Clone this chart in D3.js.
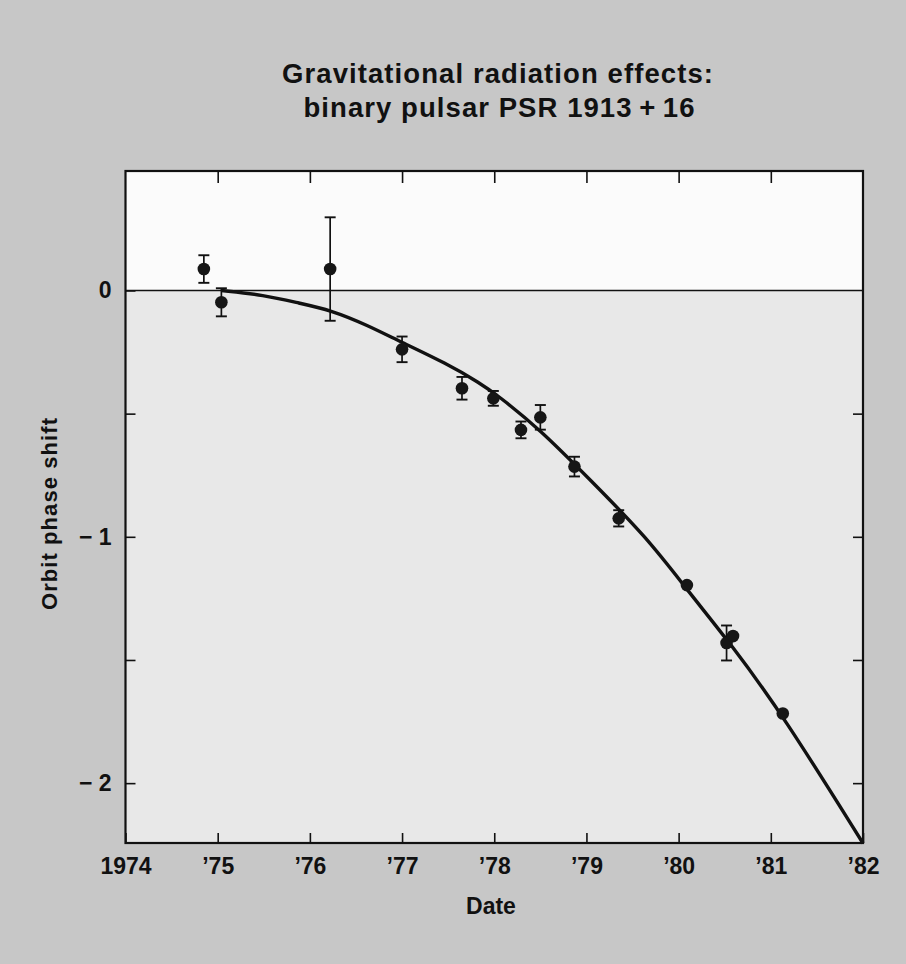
<!DOCTYPE html>
<html>
<head>
<meta charset="utf-8">
<script src="https://cdn.jsdelivr.net/npm/d3@7/dist/d3.min.js"></script>
<style>
  html, body { margin: 0; padding: 0; background: #c7c7c7; }
  svg { display: block; }
  text { fill: #111; }
</style>
</head>
<body>
<script>
// ---- data ----
const dates  = [1974.85, 1975.04, 1976.22, 1977.00, 1977.65, 1977.99, 1978.29, 1978.50, 1978.87, 1979.35, 1980.09, 1980.52, 1980.59, 1981.13];
const shifts = [0.087, -0.048, 0.087, -0.239, -0.397, -0.438, -0.566, -0.515, -0.715, -0.925, -1.196, -1.431, -1.403, -1.717];
const errors = [0.056, 0.057, 0.210, 0.052, 0.046, 0.030, 0.034, 0.050, 0.040, 0.033, 0.020, 0.071, 0.020, 0.012];

// predicted curve (general relativity)
const curveDates  = [1975.04, 1975.50, 1975.89, 1976.22, 1976.62, 1976.98, 1977.48, 1977.85, 1978.03, 1978.50, 1979.04, 1979.65, 1980.12, 1980.56, 1981.13, 1982.00];
const curveShifts = [0.000, -0.018, -0.052, -0.079, -0.140, -0.208, -0.296, -0.377, -0.424, -0.565, -0.769, -1.000, -1.229, -1.432, -1.723, -2.244];

const xTicks = [1974, 1975, 1976, 1977, 1978, 1979, 1980, 1981, 1982];
const xTickLabels = ["1974", "\u201975", "\u201976", "\u201977", "\u201978", "\u201979", "\u201980", "\u201981", "\u201982"];
const yTicks = [0, -0.5, -1, -1.5, -2];
const yTickLabels = ["0", "", "\u2212 1", "", "\u2212 2"];

const titleLines = ["Gravitational radiation effects:", "binary pulsar PSR 1913\u2009+\u200916"];
const xTitle = "Date";
const yTitle = "Orbit phase shift";

// ---- layout ----
const W = 906, H = 964;
const L = 125.5, R = 863, T = 171, B = 843;

const svg = d3.select("body").append("svg").attr("width", W).attr("height", H);

svg.append("rect").attr("width", W).attr("height", H).attr("fill", "#c7c7c7");

const x = d3.scaleLinear().domain([1974, 1982]).range([L, R]);
const y = d3.scaleLinear().domain([-2.243, 0.485]).range([B, T]);

// plot area backgrounds
svg.append("rect").attr("x", L).attr("y", T).attr("width", R - L).attr("height", y(0) - T).attr("fill", "#fbfbfb");
svg.append("rect").attr("x", L).attr("y", y(0)).attr("width", R - L).attr("height", B - y(0)).attr("fill", "#e8e8e8");

const font = "'Liberation Sans', Arial, Helvetica, sans-serif";

// title
const titleGeom = [{ cx: 497.5, y: 83, len: 431 }, { cx: 499, y: 117, len: 391 }];
svg.append("g").selectAll("text").data(titleLines).join("text")
  .attr("x", (d, i) => titleGeom[i].cx - titleGeom[i].len / 2).attr("y", (d, i) => titleGeom[i].y)
  .attr("textLength", (d, i) => titleGeom[i].len).attr("lengthAdjust", "spacing")
  .attr("font-family", font).attr("font-size", 27.5).attr("font-weight", "bold")
  .text(d => d);

// axes
const xAxisB = d3.axisBottom(x).tickValues(xTicks).tickFormat((d, i) => xTickLabels[i]).tickSizeInner(-10).tickSizeOuter(0).tickPadding(15);
const xAxisT = d3.axisTop(x).tickValues(xTicks.slice(1, -1)).tickFormat("").tickSizeInner(-12).tickSizeOuter(0);
const yAxisL = d3.axisLeft(y).tickValues(yTicks).tickFormat((d, i) => yTickLabels[i]).tickSizeInner(-10).tickSizeOuter(0).tickPadding(14);
const yAxisR = d3.axisRight(y).tickValues(yTicks.slice(1)).tickFormat("").tickSizeInner(-10).tickSizeOuter(0);

function styleAxis(g) {
  g.select(".domain").remove();
  g.selectAll(".tick line").attr("stroke", "#111").attr("stroke-width", 1.6);
  g.selectAll(".tick text").attr("font-family", font).attr("font-size", 23).attr("font-weight", "bold").attr("fill", "#111");
}

svg.append("g").attr("transform", `translate(0,${B})`).call(xAxisB).call(styleAxis);
svg.append("g").attr("transform", `translate(0,${T})`).call(xAxisT).call(styleAxis);
svg.append("g").attr("transform", `translate(${L},0)`).call(yAxisL).call(styleAxis);
svg.append("g").attr("transform", `translate(${R},0)`).call(yAxisR).call(styleAxis);

// zero line
svg.append("line").attr("x1", L).attr("x2", R).attr("y1", y(0)).attr("y2", y(0))
  .attr("stroke", "#111").attr("stroke-width", 1.6);

// frame
svg.append("rect").attr("x", L).attr("y", T).attr("width", R - L).attr("height", B - T)
  .attr("fill", "none").attr("stroke", "#111").attr("stroke-width", 2.2);

// prediction curve
const curveData = curveDates.map((d, i) => [d, curveShifts[i]]);
svg.append("path").datum(curveData)
  .attr("d", d3.line().x(d => x(d[0])).y(d => y(d[1])).curve(d3.curveBasis))
  .attr("fill", "none").attr("stroke", "#111").attr("stroke-width", 3.4);

// data points with error bars
const pts = dates.map((d, i) => ({ t: d, v: shifts[i], e: errors[i] }));
const pg = svg.append("g").selectAll("g").data(pts).join("g");
pg.append("line")
  .attr("x1", d => x(d.t)).attr("x2", d => x(d.t))
  .attr("y1", d => y(d.v + d.e)).attr("y2", d => y(d.v - d.e))
  .attr("stroke", "#111").attr("stroke-width", 1.7);
pg.filter(d => d.e >= 0.025).selectAll(".cap").data(d => [[d.t, d.v + d.e], [d.t, d.v - d.e]]).join("line")
  .attr("x1", d => x(d[0]) - 5.5).attr("x2", d => x(d[0]) + 5.5)
  .attr("y1", d => y(d[1])).attr("y2", d => y(d[1]))
  .attr("stroke", "#111").attr("stroke-width", 1.9);
pg.append("circle")
  .attr("cx", d => x(d.t)).attr("cy", d => y(d.v)).attr("r", 6.3)
  .attr("fill", "#161616");

// axis titles
svg.append("text").attr("x", 491).attr("y", 914).attr("text-anchor", "middle")
  .attr("font-family", font).attr("font-size", 23).attr("font-weight", "bold").text(xTitle);
svg.append("text").attr("transform", "translate(57,610) rotate(-90)")
  .attr("textLength", 192).attr("lengthAdjust", "spacing")
  .attr("font-family", font).attr("font-size", 22).attr("font-weight", "bold").text(yTitle);
</script>
</body>
</html>
